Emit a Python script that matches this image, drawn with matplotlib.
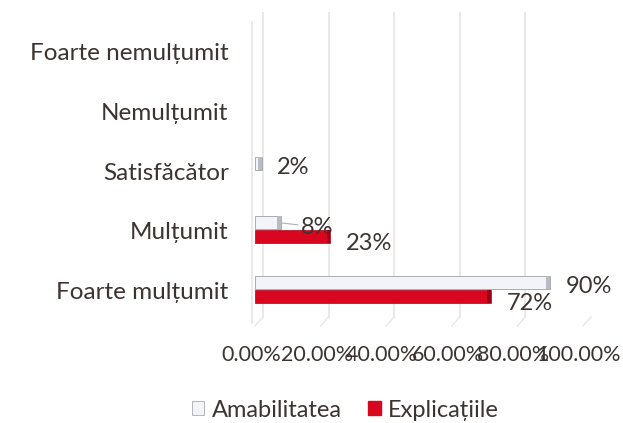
import matplotlib.pyplot as plt
import matplotlib.transforms as mtransforms
from matplotlib.patches import Patch
import numpy as np

plt.rcParams['font.family'] = ['Lato', 'DejaVu Sans']

categories = ["Foarte mulțumit", "Mulțumit", "Satisfăcător", "Nemulțumit", "Foarte nemulțumit"]
amabilitatea = [0.90, 0.08, 0.02, 0.0, 0.0]
explicatiile = [0.72, 0.23, 0.0, 0.0, 0.0]
ticks = [0.0, 0.2, 0.4, 0.6, 0.8, 1.0]
tick_labels = ["0.00%", "20.00%", "40.00%", "60.00%", "80.00%", "100.00%"]

text_col = "#3b3431"
red = "#d8061f"
white_face = "#f3f4f8"
white_edge = "#a9abb3"
grid_col = "#ebe6e6"
fs = 17

fig = plt.figure(figsize=(6.23, 4.23), dpi=100)
ax = fig.add_axes([255 / 623, 103 / 423, 328 / 623, 308 / 423])

y = np.arange(len(categories))
h = 0.22
cap = 0.012  # dark end face of each bar

# back wall grid, shifted a little right for the depth effect
shift = mtransforms.offset_copy(ax.transData, fig=fig, x=8, y=0, units='dots')
for t in ticks:
    ax.plot([t, t], [-0.45, 4.67], color=grid_col, lw=1.3, transform=shift, zorder=0)
    ax.plot([t, t + 0.024], [-0.6, -0.45], color=grid_col, lw=1.0, clip_on=False, zorder=0)
ax.plot([-0.009, -0.009], [-0.55, 4.5], color=grid_col, lw=1.3, clip_on=False, zorder=0)

# only non-zero bars are drawn
for i in y:
    a, e = amabilitatea[i], explicatiile[i]
    if a > 0:
        ax.barh(i + 0.13, a, height=h, color=white_face, edgecolor=white_edge, linewidth=0.7, zorder=3)
        ax.barh(i + 0.13, min(cap, a), left=a - min(cap, a), height=h, color="#b9bbc2", lw=0, zorder=4)
    if e > 0:
        ax.barh(i - 0.10, e, height=h, color=red, edgecolor="#b0001a", linewidth=0.5, zorder=3)
        ax.barh(i - 0.10, cap, left=e - cap, height=h, color="#9c0014", lw=0, zorder=4)

# value labels
for i, v in enumerate(amabilitatea):
    if v <= 0:
        continue
    if categories[i] == "Mulțumit":
        ax.annotate(f"{v*100:.0f}%", xy=(v, i + 0.13), xytext=(14, -3), textcoords='offset points',
                    va='center', ha='left', fontsize=fs, color=text_col,
                    arrowprops=dict(arrowstyle='-', color="#b0b0b0", lw=0.8, shrinkA=0, shrinkB=0))
    else:
        ax.annotate(f"{v*100:.0f}%", xy=(v, i + 0.13), xytext=(11, -3), textcoords='offset points',
                    va='center', ha='left', fontsize=fs, color=text_col)
for i, v in enumerate(explicatiile):
    if v <= 0:
        continue
    ax.annotate(f"{v*100:.0f}%", xy=(v, i - 0.10), xytext=(11, -5), textcoords='offset points',
                va='center', ha='left', fontsize=fs, color=text_col)

ax.set_xlim(0, 1.0)
ax.set_ylim(-0.5, 4.67)
ax.set_yticks(y)
ax.set_yticklabels(categories, fontsize=17.5, color=text_col)
ax.set_xticks(ticks)
ax.set_xticklabels(tick_labels, fontsize=15.5, color=text_col)
ax.tick_params(axis='y', length=0, pad=19)
ax.tick_params(axis='x', length=0, pad=18)
nudge = mtransforms.ScaledTranslation(-4 / 100, 0, fig.dpi_scale_trans)
for lab in ax.get_xticklabels():
    lab.set_transform(lab.get_transform() + nudge)
for s in ax.spines.values():
    s.set_visible(False)

handles = [Patch(facecolor=white_face, edgecolor=white_edge, linewidth=0.6, label="Amabilitatea"),
           Patch(facecolor=red, edgecolor=red, label="Explicațiile")]
fig.legend(handles=handles, loc='center', bbox_to_anchor=(345 / 623, 1 - 410 / 423), ncol=2,
           frameon=False, fontsize=fs, handlelength=0.55, handleheight=0.55, handletextpad=0.3,
           columnspacing=1.1, labelcolor=text_col)

fig.savefig("out.png", dpi=100)
